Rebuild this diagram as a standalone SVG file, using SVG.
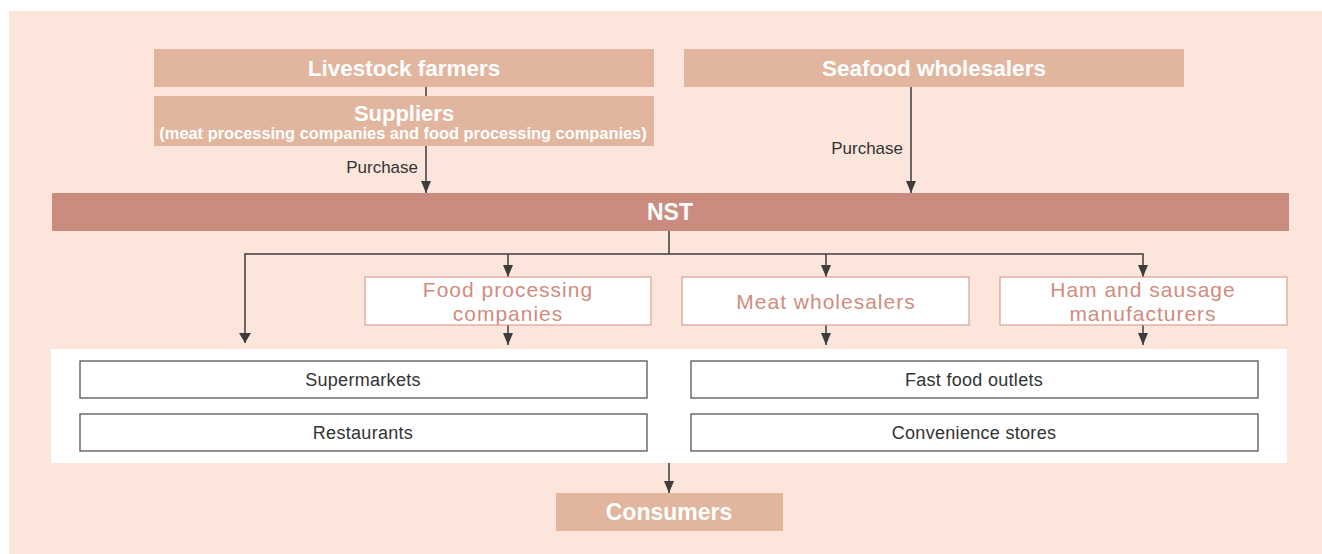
<svg xmlns="http://www.w3.org/2000/svg" width="1322" height="554" viewBox="0 0 1322 554">
  <defs>
    <marker id="arr" viewBox="0 0 12 10" refX="12" refY="5" markerWidth="12" markerHeight="10" markerUnits="userSpaceOnUse" orient="auto">
      <path d="M0,0 L12,5 L0,10 Z" fill="#3d3d3d"/>
    </marker>
    <style>
      .hdr { fill: #e1b59e; }
      .nst { fill: #cb8c80; }
      .wt { fill: #ffffff; font-family: "Liberation Sans", Arial, sans-serif; font-weight: bold; text-anchor: middle; }
      .mid { fill: #ffffff; stroke: #d9a094; stroke-width: 1.2; }
      .midt { fill: #d08c7e; font-family: "Liberation Sans", Arial, sans-serif; font-size: 21px; letter-spacing: 1px; text-anchor: middle; }
      .ret { fill: #ffffff; stroke: #555555; stroke-width: 1.3; }
      .rett { fill: #333333; font-family: "Liberation Sans", Arial, sans-serif; font-size: 18px; letter-spacing: 0.3px; text-anchor: middle; }
      .ln { fill: none; stroke: #3d3d3d; stroke-width: 1.5; }
      .lbl { fill: #333333; font-family: "Liberation Sans", Arial, sans-serif; font-size: 17px; text-anchor: end; }
    </style>
  </defs>
  <rect x="9" y="11" width="1313" height="543" fill="#fce6dc"/>
  <rect x="51" y="349" width="1236" height="114" fill="#ffffff"/>

  <g id="connectors">
    <line class="ln" x1="426" y1="87" x2="426" y2="96"/>
    <line class="ln" x1="426" y1="146" x2="426" y2="193" marker-end="url(#arr)"/>
    <line class="ln" x1="911" y1="87" x2="911" y2="193" marker-end="url(#arr)"/>
    <line class="ln" x1="669" y1="231" x2="669" y2="254"/>
    <polyline class="ln" points="245,343 245,254 1143,254 1143,277" marker-end="url(#arr)"/>
    <line class="ln" x1="508" y1="254" x2="508" y2="277" marker-end="url(#arr)"/>
    <line class="ln" x1="826" y1="254" x2="826" y2="277" marker-end="url(#arr)"/>
    <polygon points="239,333 251,333 245,343" fill="#3d3d3d"/>
    <line class="ln" x1="508" y1="325" x2="508" y2="345" marker-end="url(#arr)"/>
    <line class="ln" x1="826" y1="325" x2="826" y2="345" marker-end="url(#arr)"/>
    <line class="ln" x1="1143" y1="325" x2="1143" y2="345" marker-end="url(#arr)"/>
    <line class="ln" x1="669" y1="463" x2="669" y2="493" marker-end="url(#arr)"/>
    <text class="lbl" x="418" y="173">Purchase</text>
    <text class="lbl" x="903" y="154">Purchase</text>
  </g>

  <g id="livestock">
    <rect class="hdr" x="154" y="49" width="500" height="38"/>
    <text class="wt" x="404" y="76" font-size="22.5">Livestock farmers</text>
  </g>
  <g id="suppliers">
    <rect class="hdr" x="154" y="96" width="500" height="50"/>
    <text class="wt" x="404" y="121" font-size="22">Suppliers</text>
    <text class="wt" x="403" y="139" font-size="16.4">(meat processing companies and food processing companies)</text>
  </g>
  <g id="seafood">
    <rect class="hdr" x="684" y="49" width="500" height="38"/>
    <text class="wt" x="934" y="76" font-size="22.5">Seafood wholesalers</text>
  </g>
  <g id="nst">
    <rect class="nst" x="52" y="193" width="1237" height="38"/>
    <text class="wt" x="670" y="220" font-size="23">NST</text>
  </g>
  <g id="food-processing">
    <rect class="mid" x="365" y="277" width="286" height="48"/>
    <text class="midt" x="508" y="297">Food processing</text>
    <text class="midt" x="508" y="321">companies</text>
  </g>
  <g id="meat-wholesalers">
    <rect class="mid" x="682" y="277" width="287" height="48"/>
    <text class="midt" x="826" y="309" font-size="22" letter-spacing="0.7">Meat wholesalers</text>
  </g>
  <g id="ham-sausage">
    <rect class="mid" x="1000" y="277" width="287" height="48"/>
    <text class="midt" x="1143" y="297">Ham and sausage</text>
    <text class="midt" x="1143" y="321">manufacturers</text>
  </g>
  <g id="supermarkets">
    <rect class="ret" x="80" y="361" width="567" height="37"/>
    <text class="rett" x="363" y="386">Supermarkets</text>
  </g>
  <g id="restaurants">
    <rect class="ret" x="80" y="414" width="567" height="37"/>
    <text class="rett" x="363" y="439">Restaurants</text>
  </g>
  <g id="fast-food">
    <rect class="ret" x="691" y="361" width="567" height="37"/>
    <text class="rett" x="974" y="386">Fast food outlets</text>
  </g>
  <g id="convenience">
    <rect class="ret" x="691" y="414" width="567" height="37"/>
    <text class="rett" x="974" y="439">Convenience stores</text>
  </g>
  <g id="consumers">
    <rect class="hdr" x="556" y="493" width="227" height="38"/>
    <text class="wt" x="669" y="520" font-size="23">Consumers</text>
  </g>
</svg>
